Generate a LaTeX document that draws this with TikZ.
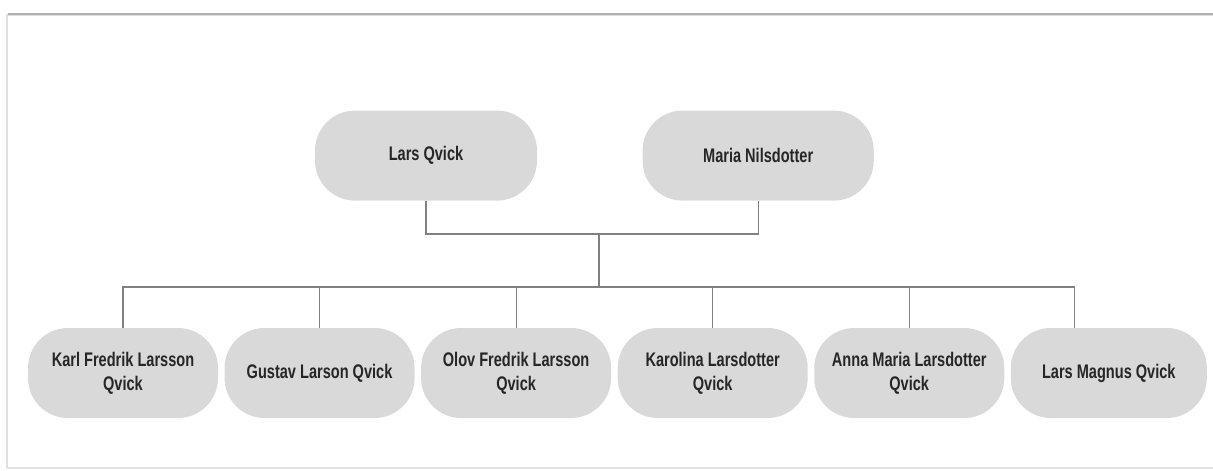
\documentclass[tikz,border=0pt]{standalone}
\usepackage{fontspec}
\setmainfont{Liberation Sans}[FakeStretch=0.74]
\usetikzlibrary{positioning}

\begin{document}
\begin{tikzpicture}[
        person/.style = {
            rectangle,
            fill=black!15,
            rounded corners=1.0cm,
            align = center,
            font = \fontsize{14}{17}\selectfont\bfseries,
            text = black!85,
            minimum height=2.25cm,
            minimum width=4.75cm,
            inner sep=0pt
        },
        link/.style = {
            draw=black!50,
            line width=0.8pt
        }
    ]
    \useasboundingbox (0,0) rectangle (30.325,-11.775);
    % frame of the page
    \draw[black!12, line width=0.8pt] (0.175,-11.7) -- (0.175,-0.375) -- (30.5,-0.375);
    \draw[black!30, line width=1.2pt] (0.2,-0.35) -- (30.5,-0.35);
    \draw[black!12, line width=0.8pt] (0.175,-11.7) -- (30.5,-11.7);

    % parents
    \node (lars) [person, minimum width=5.55cm] at (10.65,-3.89) {Lars Qvick};
    \node (maria) [person, minimum width=5.78cm, right=2.625cm of lars] {Maria Nilsdotter};

    % children
    \node (karl) [person] at (3.075,-9.325) {Karl Fredrik Larsson\\Qvick};
    \node (gustav) [person, right=0.15cm of karl] {Gustav Larson Qvick};
    \node (olov) [person, right=0.15cm of gustav] {Olov Fredrik Larsson\\Qvick};
    \node (karolina) [person, right=0.15cm of olov] {Karolina Larsdotter\\Qvick};
    \node (anna) [person, right=0.15cm of karolina] {Anna Maria Larsdotter\\Qvick};
    \node (magnus) [person, minimum width=4.9cm, right=0.15cm of anna] {Lars Magnus Qvick};

    \coordinate (couple) at (14.975,-5.85);
    \coordinate (bar) at (14.975,-7.175);

    \draw[link] (lars.south) |- (couple) -| (maria.south);
    \draw[link] (couple) -- (bar);
    \draw[link] (karl.north) |- (bar);
    \draw[link] (gustav.north) |- (bar);
    \draw[link] (olov.north) |- (bar);
    \draw[link] (karolina.north) |- (bar);
    \draw[link] (anna.north) |- (bar);
    \draw[link] ([xshift=-0.85cm]magnus.north) |- (bar);
\end{tikzpicture}
\end{document}
